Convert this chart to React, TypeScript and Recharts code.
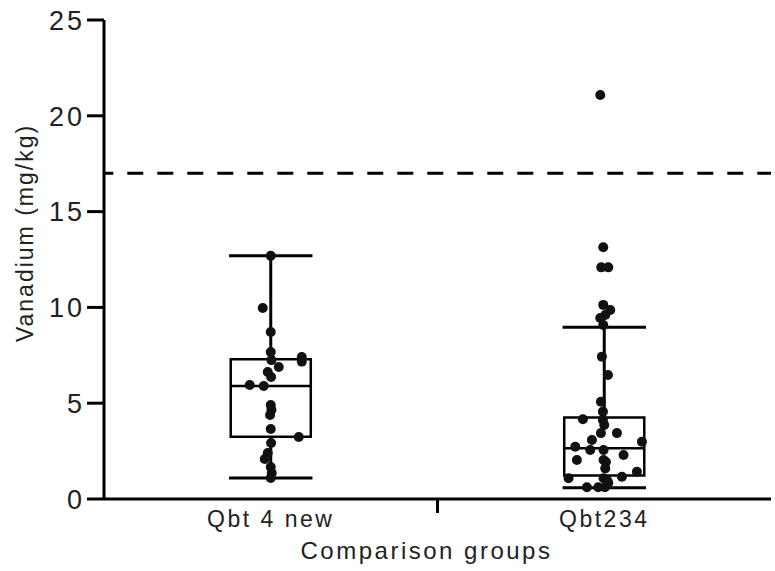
import * as React from "react"
import {
  ComposedChart,
  Scatter,
  XAxis,
  YAxis,
  ReferenceArea,
  ReferenceLine,
} from "recharts"

const groups = ["Qbt 4 new", "Qbt234"]
const groupCenters = [0.5, 1.5]

// box stats per group
const whiskerLow = [1.1, 0.59]
const boxQ1 = [3.25, 1.22]
const boxMedian = [5.9, 2.65]
const boxQ3 = [7.3, 4.26]
const whiskerHigh = [12.7, 8.96]

const threshold = 17
const yTicks = [0, 5, 10, 15, 20, 25]

// Qbt 4 new samples (value, horizontal jitter)
const qbt4Values = [
  12.7, 9.97, 8.72, 7.67, 7.41, 7.17, 7.25, 6.89, 6.63, 6.37, 5.95, 5.9,
  4.91, 4.65, 4.38, 3.65, 3.24, 2.92, 2.4, 2.09, 1.67, 1.36, 1.1,
]
const qbt4Jitter = [
  0, -0.024, 0, 0, 0.093, 0.093, 0.002, 0.024, -0.009, 0.001, -0.063, -0.021,
  0, 0.002, -0.002, 0, 0.084, 0.001, -0.009, -0.018, 0, 0.003, 0,
]

// Qbt234 samples
const qbt234Values = [
  21.09, 13.14, 12.09, 12.09, 10.13, 9.86, 9.6, 9.45, 9.08, 7.43, 6.47, 5.08,
  4.56, 4.16, 4.12, 3.86, 3.44, 3.44, 3.08, 2.99, 2.73, 2.56, 2.56, 2.3, 2.04,
  2.04, 1.93, 1.6, 1.42, 1.16, 1.08, 1.08, 0.99, 0.84, 0.61, 0.61, 0.61,
]
const qbt234Jitter = [
  -0.012, -0.003, -0.009, 0.012, -0.003, 0.018, 0.003, -0.012, -0.003, -0.007,
  0.011, -0.01, -0.004, -0.064, -0.004, 0, -0.01, 0.038, -0.037, 0.113, -0.087,
  -0.042, -0.002, 0.058, -0.082, -0.002, 0.005, 0.003, 0.098, 0.053, -0.107,
  -0.002, 0.008, 0.012, -0.052, -0.018, 0.002,
]

const points = [
  ...qbt4Values.map((v, i) => ({ x: groupCenters[0] + qbt4Jitter[i], y: v })),
  ...qbt234Values.map((v, i) => ({ x: groupCenters[1] + qbt234Jitter[i], y: v })),
]

const FONT = "'Liberation Sans', Arial, sans-serif"
const HALF = 0.12
const CAP = 0.125

function XTick(props: any) {
  const { x, y, payload } = props
  if (payload.value === 1) {
    return <line x1={x} x2={x} y1={y} y2={y + 14} stroke="#000" strokeWidth={3} />
  }
  const idx = payload.value < 1 ? 0 : 1
  return (
    <text x={x} y={y + 28} textAnchor="middle" fontFamily={FONT} fontSize={23} letterSpacing={2.5} fill="#222">
      {groups[idx]}
    </text>
  )
}

function YTick(props: any) {
  const { x, y, payload } = props
  return (
    <text x={x} y={y} dy="0.36em" textAnchor="end" fontFamily={FONT} fontSize={27} letterSpacing={3} fill="#222">
      {payload.value}
    </text>
  )
}

export default function App() {
  return (
    <div style={{ position: "absolute", left: 0, top: 0 }}>
      <ComposedChart width={775} height={571} margin={{ top: 20, right: 4, left: 0, bottom: 0 }}>
        <XAxis
          dataKey="x"
          type="number"
          domain={[0, 2]}
          ticks={[0.5, 1, 1.5]}
          height={72}
          tickSize={0}
          tickMargin={0}
          tickLine={false}
          tick={<XTick />}
          axisLine={{ stroke: "#000", strokeWidth: 3 }}
          label={{
            content: (p: any) => (
              <text
                x={p.viewBox.x + p.viewBox.width / 2 - 11}
                y={p.viewBox.y + 60}
                textAnchor="middle"
                fontFamily={FONT}
                fontSize={24}
                letterSpacing={2.5}
                fill="#222"
              >
                Comparison groups
              </text>
            ),
          }}
        />
        <XAxis xAxisId="top" orientation="top" type="number" domain={[0, 2]} height={0} tick={false} tickLine={false} axisLine={{ stroke: "#000", strokeWidth: 3 }} />
        <YAxis
          type="number"
          domain={[0, 25]}
          ticks={yTicks}
          width={104}
          tickSize={17}
          tickMargin={2}
          tick={<YTick />}
          tickLine={{ stroke: "#000", strokeWidth: 3 }}
          axisLine={{ stroke: "#000", strokeWidth: 3 }}
          label={{
            content: (p: any) => {
              const cx = p.viewBox.x + 33
              const cy = p.viewBox.y + 213
              return (
                <text
                  x={cx}
                  y={cy}
                  transform={`rotate(-90 ${cx} ${cy})`}
                  textAnchor="middle"
                  fontFamily={FONT}
                  fontSize={23}
                  letterSpacing={2}
                  fill="#222"
                >
                  Vanadium (mg/kg)
                </text>
              )
            },
          }}
        />
        <YAxis yAxisId="right" orientation="right" type="number" domain={[0, 25]} width={0} tick={false} tickLine={false} axisLine={{ stroke: "#000", strokeWidth: 3 }} />

        <ReferenceLine y={threshold} stroke="#000" strokeWidth={3} strokeDasharray="16 14" strokeDashoffset={6.7} />

        {groupCenters.map((c, i) => (
          <ReferenceArea
            key={`box-${i}`}
            x1={c - HALF}
            x2={c + HALF}
            y1={boxQ1[i]}
            y2={boxQ3[i]}
            fill="none"
            fillOpacity={0}
            stroke="#000"
            strokeWidth={2.5}
            strokeOpacity={1}
          />
        ))}
        {groupCenters.map((c, i) => (
          <ReferenceLine key={`med-${i}`} segment={[{ x: c - HALF, y: boxMedian[i] }, { x: c + HALF, y: boxMedian[i] }]} stroke="#000" strokeWidth={2.5} />
        ))}
        {groupCenters.map((c, i) => (
          <ReferenceLine key={`wu-${i}`} segment={[{ x: c, y: boxQ3[i] }, { x: c, y: whiskerHigh[i] }]} stroke="#000" strokeWidth={3} />
        ))}
        {groupCenters.map((c, i) => (
          <ReferenceLine key={`wl-${i}`} segment={[{ x: c, y: whiskerLow[i] }, { x: c, y: boxQ1[i] }]} stroke="#000" strokeWidth={3} />
        ))}
        {groupCenters.map((c, i) => (
          <ReferenceLine key={`ch-${i}`} segment={[{ x: c - CAP, y: whiskerHigh[i] }, { x: c + CAP, y: whiskerHigh[i] }]} stroke="#000" strokeWidth={3} />
        ))}
        {groupCenters.map((c, i) => (
          <ReferenceLine key={`cl-${i}`} segment={[{ x: c - CAP, y: whiskerLow[i] }, { x: c + CAP, y: whiskerLow[i] }]} stroke="#000" strokeWidth={3} />
        ))}

        <Scatter
          data={points}
          dataKey="y"
          isAnimationActive={false}
          shape={(p: any) => <circle cx={p.cx} cy={p.cy} r={5} fill="#111" />}
        />
      </ComposedChart>
    </div>
  )
}
